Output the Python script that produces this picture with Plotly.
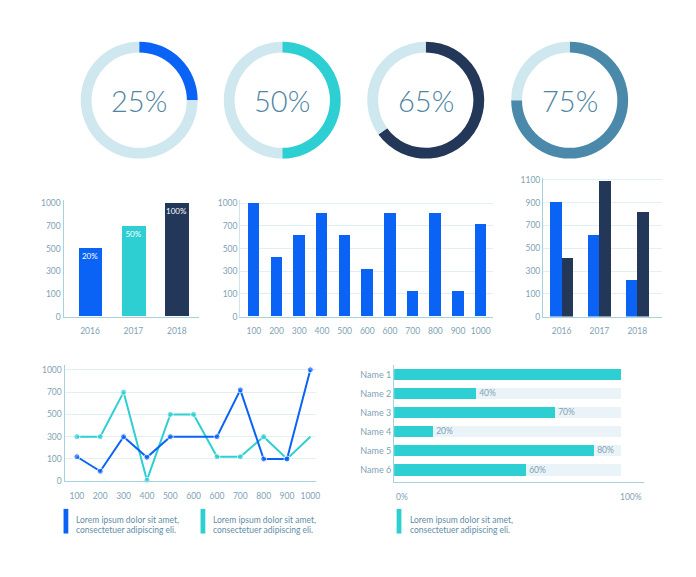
import numpy as np
import plotly.graph_objects as go

W, H = 696, 577

# ---------------- data ----------------
donut_pcts = [25, 50, 65, 75]
donut_labels = ["25%", "50%", "65%", "75%"]

bar1_years = ["2016", "2017", "2018"]
bar1_values = [500, 700, 1000]
bar1_text = ["20%", "50%", "100%"]
levels_a = [0, 100, 300, 500, 700, 1000]

bar2_labels = ["100", "200", "300", "400", "500", "600", "600", "700", "800", "900", "1000"]
bar2_values = [1015, 420, 620, 870, 620, 320, 870, 125, 870, 125, 725]

bar3_years = ["2016", "2017", "2018"]
bar3_blue = [910, 620, 225]
bar3_navy = [420, 1090, 820]
levels_b = [0, 100, 300, 500, 700, 900, 1100]

line_labels = ["100", "200", "300", "400", "500", "600", "600", "700", "800", "900", "1000"]
line_blue = [120, 45, 300, 115, 300, 300, 300, 730, 100, 100, 1000]
line_teal = [300, 300, 700, 5, 500, 500, 120, 120, 300, 100, 300]

hbar_names = ["Name 1", "Name 2", "Name 3", "Name 4", "Name 5", "Name 6"]
hbar_values = [100, 36, 71, 17, 88, 58]
hbar_text = ["", "40%", "70%", "20%", "80%", "60%"]
hbar_track = [100, 100, 100, 100, 100, 100]

legend_line1 = "Lorem ipsum dolor sit amet,"
legend_line2 = "consectetuer adipiscing eli."

# ---------------- style ----------------
BLUE = "#0b63f6"
TEAL = "#2dcfd3"
NAVY = "#233759"
STEEL = "#4a89a9"
TRACK = "#cfe7ee"
HTRACK = "#eaf3f7"
AXIS = "#a6d1de"
GRID = "#e2eff4"
TICK = "#7fa2b5"
TXT = "#5f8da6"
FONT = "Lato"
TFS = 8.5


def dx(a, b):
    return [a / W, b / W]


def dy(top, bottom):
    return [1 - bottom / H, 1 - top / H]


def lv(vals, levels):
    return list(np.interp(vals, levels, list(range(len(levels)))))


fig = go.Figure()

# ---------------- donuts ----------------
donut_colors = [BLUE, TEAL, NAVY, STEEL]
centers = [140.2, 284.3, 428.8, 573.8]
cy = 98.5
R = 59.3
for p, lab, c, cx in zip(donut_pcts, donut_labels, donut_colors, centers):
    fig.add_trace(go.Pie(
        values=[p, 100 - p], sort=False, direction="clockwise", rotation=0,
        hole=0.815, marker=dict(colors=[c, TRACK], line=dict(width=0)),
        textinfo="none", hoverinfo="skip", showlegend=False,
        domain=dict(x=dx(cx - R, cx + R), y=dy(cy - R, cy + R)),
    ))
    fig.add_annotation(text=lab, x=cx / W, y=1 - (cy + 0.5) / H, xref="paper", yref="paper",
                       showarrow=False, xanchor="center", yanchor="middle",
                       font=dict(family=FONT, size=29, color="#4e86a3", weight=300))

# ---------------- bar chart 1 ----------------
fig.add_trace(go.Bar(
    x=list(range(len(bar1_years))), y=lv(bar1_values, levels_a),
    marker=dict(color=[BLUE, TEAL, NAVY], line=dict(width=0)), width=0.55,
    text=bar1_text, textposition="inside", insidetextanchor="end", textangle=0,
    textfont=dict(family=FONT, size=8, color="white"),
    xaxis="x", yaxis="y", showlegend=False, hoverinfo="skip",
))

# ---------------- bar chart 2 ----------------
fig.add_trace(go.Bar(
    x=list(range(len(bar2_labels))), y=lv(bar2_values, levels_a),
    marker=dict(color=BLUE, line=dict(width=0)), width=0.51,
    xaxis="x2", yaxis="y2", showlegend=False, hoverinfo="skip",
))

# ---------------- bar chart 3 ----------------
fig.add_trace(go.Bar(
    x=list(range(len(bar3_years))), y=lv(bar3_blue, levels_b),
    marker=dict(color=BLUE, line=dict(width=0)), width=0.305, offset=-0.305,
    xaxis="x3", yaxis="y3", showlegend=False, hoverinfo="skip",
))
fig.add_trace(go.Bar(
    x=list(range(len(bar3_years))), y=lv(bar3_navy, levels_b),
    marker=dict(color=NAVY, line=dict(width=0)), width=0.305, offset=0,
    xaxis="x3", yaxis="y3", showlegend=False, hoverinfo="skip",
))

# ---------------- line chart ----------------
teal_sizes = [6] * (len(line_teal) - 1) + [0]
blue_sizes = [6] * len(line_blue)
blue_sizes[5] = 0
fig.add_trace(go.Scatter(
    x=list(range(len(line_labels))), y=lv(line_teal, levels_a), mode="lines+markers",
    line=dict(color=TEAL, width=2), marker=dict(size=teal_sizes, color=TEAL),
    xaxis="x4", yaxis="y4", showlegend=False, hoverinfo="skip", cliponaxis=False,
))
fig.add_trace(go.Scatter(
    x=list(range(len(line_labels))), y=lv(line_blue, levels_a), mode="lines+markers",
    line=dict(color=BLUE, width=2), marker=dict(size=blue_sizes, color=BLUE),
    xaxis="x4", yaxis="y4", showlegend=False, hoverinfo="skip", cliponaxis=False,
))

# ---------------- horizontal bars ----------------
fig.add_trace(go.Bar(
    y=hbar_names, x=hbar_track, orientation="h",
    marker=dict(color=HTRACK, line=dict(width=0)), width=0.58,
    xaxis="x5", yaxis="y5", showlegend=False, hoverinfo="skip",
))
fig.add_trace(go.Bar(
    y=hbar_names, x=hbar_values, orientation="h",
    marker=dict(color=TEAL, line=dict(width=0)), width=0.58,
    text=hbar_text, textposition="outside", cliponaxis=False,
    textfont=dict(family=FONT, size=TFS, color=TICK),
    xaxis="x5", yaxis="y5", showlegend=False, hoverinfo="skip",
))

# ---------------- axes ----------------
tickfont = dict(family=FONT, size=TFS, color=TICK)


def xax(dom, rng, tickvals, ticktext, anchor):
    return dict(domain=dom, range=rng, tickvals=tickvals, ticktext=ticktext, anchor=anchor,
                showline=True, linecolor=AXIS, linewidth=1.3, showgrid=False, zeroline=False,
                ticks="", tickfont=tickfont, fixedrange=True, ticklabelstandoff=6)


def yax(dom, rng, levels, anchor, grid, linecolor=AXIS):
    return dict(domain=dom, range=rng, tickvals=list(range(len(levels))),
                ticktext=[str(v) for v in levels], anchor=anchor,
                showline=True, linecolor=linecolor, linewidth=1.2, showgrid=grid,
                gridcolor=GRID, gridwidth=1, zeroline=False, ticks="",
                tickfont=tickfont, fixedrange=True)


fig.update_layout(
    width=W, height=H, margin=dict(l=0, r=0, t=0, b=0),
    paper_bgcolor="white", plot_bgcolor="white",
    barmode="overlay", bargap=0,
    uniformtext=dict(minsize=8, mode="show"),
    font=dict(family=FONT, color=TICK),
    xaxis=xax(dx(64, 200), [-0.61, 2.5], [0, 1, 2], bar1_years, "y"),
    yaxis=yax(dy(200, 318), [0, 5.13], levels_a, "x", False),
    xaxis2=xax(dx(242, 497), [-0.6, 10.56], list(range(len(bar2_labels))), bar2_labels, "y2"),
    yaxis2=yax(dy(200, 318), [0, 5.13], levels_a, "x2", True, linecolor="#cfe4eb"),
    xaxis3=xax(dx(547, 667), [-0.49, 2.66], [0, 1, 2], bar3_years, "y3"),
    yaxis3=yax(dy(177, 318), [0, 6.1], levels_b, "x3", True),
    xaxis4=xax(dx(65, 318), [-0.53, 10.23], list(range(len(line_labels))), line_labels, "y4"),
    yaxis4=yax(dy(367, 485), [0, 5.22], levels_a, "x4", True),
    xaxis5=dict(domain=dx(397, 649), range=[0, 110], anchor="y5", showline=True,
                linecolor=AXIS, linewidth=1.3, showgrid=False, zeroline=False,
                showticklabels=False, ticks="", fixedrange=True),
    yaxis5=dict(domain=dy(367, 485.3), range=[5.61, -0.5], anchor="x5", type="category",
                showline=True, linecolor=AXIS, linewidth=1.2, showgrid=False, zeroline=False,
                ticks="", tickfont=dict(family=FONT, size=9, color=TICK), fixedrange=True),
)

# x tick labels for horizontal bar chart
fig.add_annotation(text="0%", x=0, y=1 - 501 / H, xref="x5 domain", yref="paper",
                   xanchor="left", yanchor="middle", showarrow=False, font=tickfont)
fig.add_annotation(text="100%", x=1, y=1 - 501 / H, xref="x5 domain", yref="paper",
                   xanchor="right", yanchor="middle", showarrow=False, font=tickfont)

# ---------------- legends ----------------
legend_items = [(64, BLUE), (202, TEAL), (399.5, TEAL)]
for x0, col in legend_items:
    fig.add_shape(type="rect", xref="paper", yref="paper",
                  x0=x0 / W, x1=(x0 + 4.8) / W, y0=1 - 538 / H, y1=1 - 513 / H,
                  fillcolor=col, line=dict(width=0))
    for txt, yy in ((legend_line1, 524.5), (legend_line2, 534)):
        fig.add_annotation(text=txt, x=(x0 + 11) / W, y=1 - yy / H,
                           xref="paper", yref="paper", xanchor="left", yanchor="middle",
                           align="left", showarrow=False,
                           font=dict(family=FONT, size=8.5, color=TXT))

fig.write_html("out.html")
